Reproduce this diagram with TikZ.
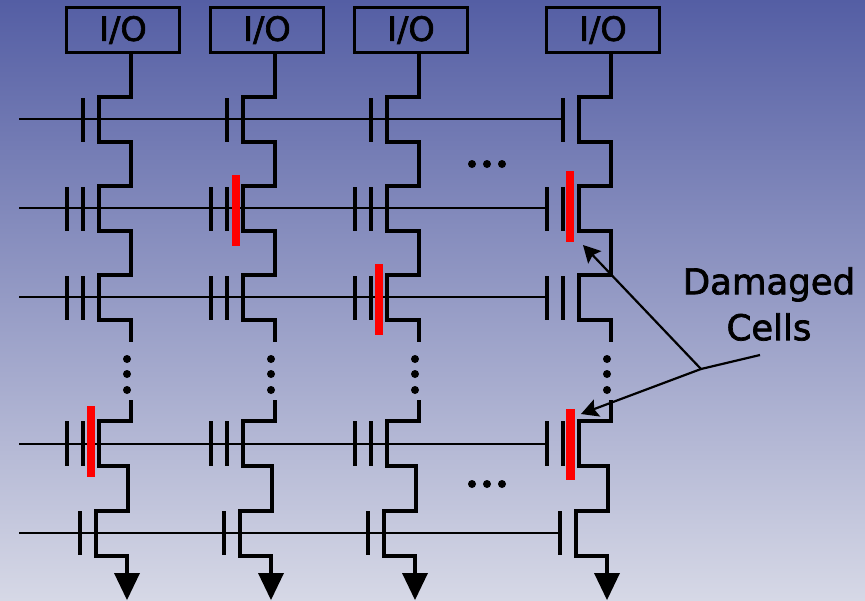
\documentclass[tikz,border=0pt]{standalone}
\usepackage{fontspec}
\setmainfont{DejaVu Sans}[FakeBold=2]
\usetikzlibrary{arrows.meta}
\definecolor{slidetop}{RGB}{84,94,164}
\definecolor{slidebottom}{RGB}{214,216,230}
\definecolor{faultred}{RGB}{255,0,0}
\tikzset{
  wire/.style={line width=3.6pt,line join=miter},
  wordline/.style={line width=2.4pt},
  gateplate/.style={line width=3.6pt},
  fault/.style={fill=faultred,draw=none},
  iobox/.style={draw,line width=3.6pt,minimum width=113pt,minimum height=45pt,inner sep=0pt,font=\fontsize{33.5}{33}\selectfont},
  ground/.style={fill=black,draw=none},
  pointer/.style={line width=2.2pt,-{Stealth[length=17pt,width=18pt,inset=3pt]}}
}
\begin{document}
\begin{tikzpicture}[x=1pt,y=-1pt]
\useasboundingbox (0,0) rectangle (865,600);
\shade [top color=slidetop,bottom color=slidebottom] (0,0) rectangle (865,600); %Hintergrund

\node [iobox] (io1) at (123,30) {I/O};
\node [iobox] (io2) at (267,30) {I/O};
\node [iobox] (io3) at (411,30) {I/O};
\node [iobox] (io4) at (603,30) {I/O};
\coordinate (d1) at (131,0);
\coordinate (d2) at (275,0);
\coordinate (d3) at (419,0);
\coordinate (d4) at (611,0);

%Wortleitungen
\draw [wordline] (19,119)--(563,119);
\draw [wordline] (19,208)--(547,208);
\draw [wordline] (19,297)--(547,297);
\draw [wordline] (19,444)--(547,444);
\draw [wordline] (19,533)--(560,533);

%Spalten oben
\draw [wire] (io1.south -| d1)--(131,97)--(99,97)--(99,142)--(131,142)--(131,186)--(99,186)--(99,231)--(131,231)--(131,275)--(99,275)--(99,320)--(131,320)--(131,342);
\draw [wire] (io2.south -| d2)--(275,97)--(243,97)--(243,142)--(275,142)--(275,186)--(243,186)--(243,231)--(275,231)--(275,275)--(243,275)--(243,320)--(275,320)--(275,342);
\draw [wire] (io3.south -| d3)--(419,97)--(387,97)--(387,142)--(419,142)--(419,186)--(387,186)--(387,231)--(419,231)--(419,275)--(387,275)--(387,320)--(419,320)--(419,342);
\draw [wire] (io4.south -| d4)--(611,97)--(579,97)--(579,142)--(611,142)--(611,186)--(579,186)--(579,231)--(611,231)--(611,275)--(579,275)--(579,320)--(611,320)--(611,342);
%Spalten unten
\draw [wire] (131,400)--(131,421)--(99,421)--(99,466)--(128,466)--(128,511)--(96,511)--(96,556)--(127,556)--(127,576);
\draw [wire] (275,400)--(275,421)--(243,421)--(243,466)--(272,466)--(272,511)--(240,511)--(240,556)--(271,556)--(271,576);
\draw [wire] (419,400)--(419,421)--(387,421)--(387,466)--(416,466)--(416,511)--(384,511)--(384,556)--(415,556)--(415,576);
\draw [wire] (611,400)--(611,421)--(579,421)--(579,466)--(608,466)--(608,511)--(576,511)--(576,556)--(607,556)--(607,576);

%Gates
\draw [gateplate] (83,98)--(83,142) (227,98)--(227,142) (371,98)--(371,142) (563,98)--(563,142);
\draw [gateplate] (67,187)--(67,231) (83,187)--(83,231) (211,187)--(211,231) (227,187)--(227,231) (355,187)--(355,231) (371,187)--(371,231) (547,187)--(547,231) (563,187)--(563,231);
\draw [gateplate] (67,276)--(67,320) (83,276)--(83,320) (211,276)--(211,320) (227,276)--(227,320) (355,276)--(355,320) (371,276)--(371,320) (547,276)--(547,320) (563,276)--(563,320);
\draw [gateplate] (67,421)--(67,466) (83,421)--(83,466) (211,421)--(211,466) (227,421)--(227,466) (355,421)--(355,466) (371,421)--(371,466) (547,421)--(547,466) (563,421)--(563,466);
\draw [gateplate] (80,511)--(80,555) (224,511)--(224,555) (368,511)--(368,555) (560,511)--(560,555);

%Masse
\fill [ground] (114,573)--(140,573)--(127,600)--cycle;
\fill [ground] (258,573)--(284,573)--(271,600)--cycle;
\fill [ground] (402,573)--(428,573)--(415,600)--cycle;
\fill [ground] (594,573)--(620,573)--(607,600)--cycle;

%Punkte
\fill (127,359) circle [radius=4pt] (127,374) circle [radius=4pt] (127,390) circle [radius=4pt];
\fill (271,359) circle [radius=4pt] (271,374) circle [radius=4pt] (271,390) circle [radius=4pt];
\fill (415,359) circle [radius=4pt] (415,374) circle [radius=4pt] (415,390) circle [radius=4pt];
\fill (607,359) circle [radius=4pt] (607,374) circle [radius=4pt] (607,390) circle [radius=4pt];
\fill (472,164) circle [radius=4pt] (487,164) circle [radius=4pt] (502,164) circle [radius=4pt];
\fill (472,484) circle [radius=4pt] (487,484) circle [radius=4pt] (502,484) circle [radius=4pt];

%defekte Zellen
\fill [fault] (232,175) rectangle (240,246);
\fill [fault] (566,171) rectangle (574,242);
\fill [fault] (375,264) rectangle (383,335);
\fill [fault] (87,406) rectangle (95,477);
\fill [fault] (566,409) rectangle (575,480);

\node [font=\fontsize{35.5}{46}\selectfont,align=center] (damaged) at (769,304) {Damaged\\Cells};
\coordinate (fork) at (701,369);
\coordinate (tail) at (760,355);
\coordinate (faulta) at (583,245);
\coordinate (faultb) at (581,414);
\draw [line width=2.2pt] (tail)--(fork);
\draw [pointer] (fork)--(faulta);
\draw [pointer] (fork)--(faultb);
\end{tikzpicture}
\end{document}
